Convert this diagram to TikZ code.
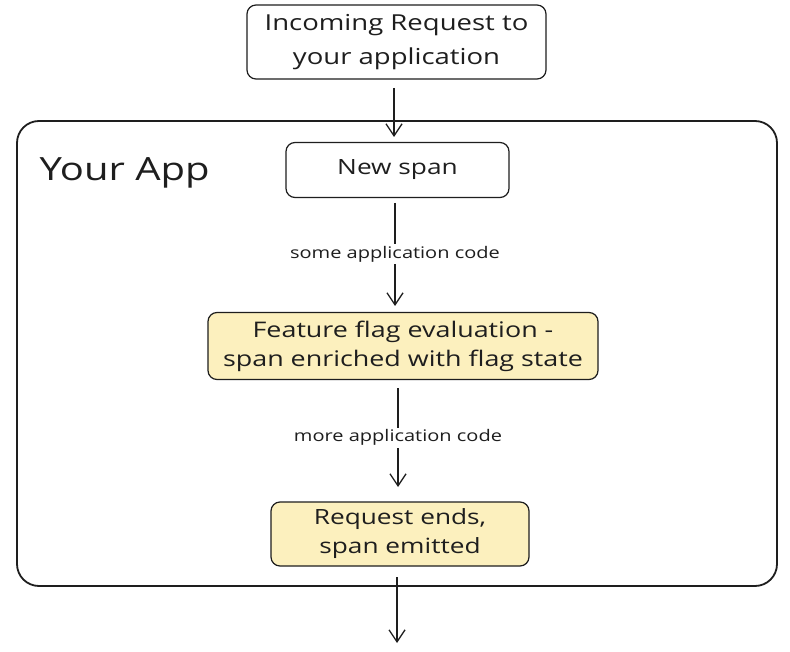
\documentclass[tikz,border=0pt]{standalone}
\usepackage{fontspec}
\setmainfont{Open Sans}[FakeStretch=1.25]
\usetikzlibrary{arrows.meta}
\definecolor{flagfill}{HTML}{FCF0BE}
\definecolor{ink}{HTML}{1E1E1E}
\tikzset{
  x=1pt,y=-1pt,
  box/.style={draw=ink,line width=1.2pt,rounded corners=9pt,inner sep=0pt,align=center,text=ink,font=\fontsize{21}{29}\selectfont},
  yellowbox/.style={box,fill=flagfill},
  flow/.style={draw=ink,line width=1.3pt,-{Straight Barb[length=12pt,width=16pt,line width=1.3pt]}},
  lbl/.style={fill=white,inner sep=2pt,font=\fontsize{16}{18}\selectfont,text=ink}
}
\begin{document}
\begin{tikzpicture}
\useasboundingbox (0,0) rectangle (790,652);
\fill[white] (0,0) rectangle (790,652);
% frame
\draw[draw=ink,line width=1.8pt,rounded corners=22pt] (17,121) rectangle (777,586);
\node[anchor=base west,font=\fontsize{32}{36}\selectfont,text=ink] (app) at (36,181) {Your App};
% nodes
\node[box,minimum width=299pt,minimum height=74pt,font=\fontsize{22}{34}\selectfont] (req) at (396.5,42) {Incoming Request to\\your application};
\node[box,minimum width=223pt,minimum height=55pt] (new) at (397.5,170) {New span};
\node[yellowbox,minimum width=390pt,minimum height=67pt,font=\fontsize{21.5}{29}\selectfont] (flag) at (403,346) {Feature flag evaluation -\\span enriched with flag state};
\node[yellowbox,minimum width=258pt,minimum height=64pt,font=\fontsize{21}{29}\selectfont] (end) at (400,534) {Request ends,\\span emitted};
\coordinate (out) at (397,643);
% connectors
\draw[flow] (394,88) -- (394,137);
\draw[flow] (395,203) -- node[lbl] (l1) {some application code} (395,306);
\draw[flow] (398,388) -- node[lbl] (l2) {more application code} (398,487);
\draw[flow] (397,577) -- (out);
\end{tikzpicture}
\end{document}
